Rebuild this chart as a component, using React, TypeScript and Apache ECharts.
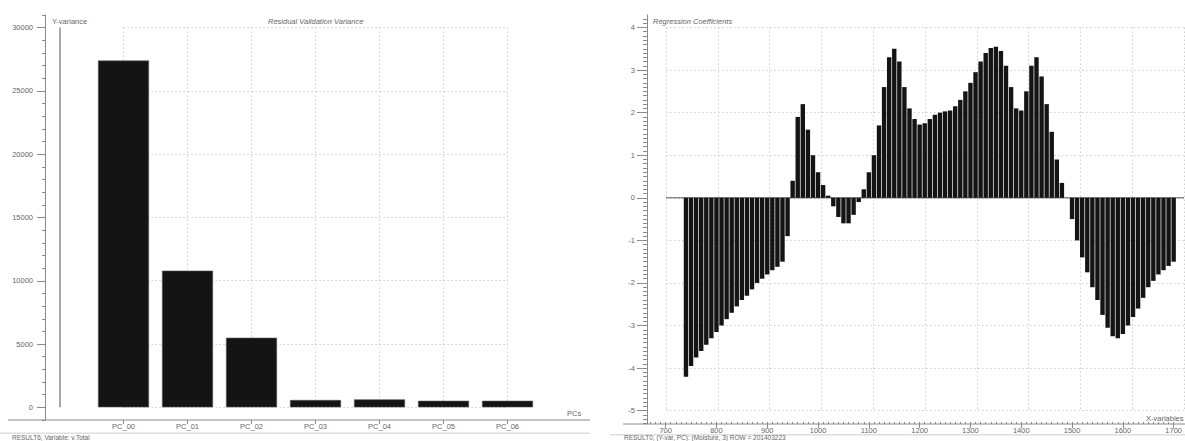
import React, { useEffect, useRef } from "react";
import * as echarts from "echarts";

const FONT = '"Liberation Sans", Arial, sans-serif';

// Residual validation variance per principal component
const pcLabels = ["PC_00", "PC_01", "PC_02", "PC_03", "PC_04", "PC_05", "PC_06"];
const pcIndex = [0, 1, 2, 3, 4, 5, 6];
const yVariance = [27400, 10800, 5500, 580, 630, 520, 520];

// Regression coefficients against wavelength (nm)
const wavelengths = [
  740, 750, 760, 770, 780, 790, 800, 810, 820, 830, 840, 850, 860, 870, 880, 890, 900, 910, 920, 930,
  940, 950, 960, 970, 980, 990, 1000, 1010, 1020, 1030, 1040, 1050, 1060, 1070, 1080, 1090, 1100, 1110,
  1120, 1130, 1140, 1150, 1160, 1170, 1180, 1190, 1200, 1210, 1220, 1230, 1240, 1250, 1260, 1270, 1280,
  1290, 1300, 1310, 1320, 1330, 1340, 1350, 1360, 1370, 1380, 1390, 1400, 1410, 1420, 1430, 1440, 1450,
  1460, 1470, 1480, 1490, 1500, 1510, 1520, 1530, 1540, 1550, 1560, 1570, 1580, 1590, 1600, 1610, 1620,
  1630, 1640, 1650, 1660, 1670, 1680, 1690, 1700,
];
const coefficients = [
  // 740 - 930
  -4.2, -3.95, -3.75, -3.6, -3.45, -3.3, -3.15, -3.0, -2.85, -2.7, -2.55, -2.4, -2.3, -2.15, -2.0, -1.9,
  -1.8, -1.7, -1.62, -1.5,
  // 940 - 1130
  -0.9, 0.4, 1.9, 2.2, 1.6, 1.0, 0.6, 0.3, 0.05, -0.2, -0.45, -0.6, -0.6, -0.4, -0.1, 0.2, 0.6, 1.0,
  1.7, 2.6,
  // 1140 - 1330
  3.3, 3.5, 3.2, 2.6, 2.1, 1.85, 1.72, 1.75, 1.85, 1.95, 2.0, 2.03, 2.05, 2.15, 2.3, 2.5, 2.7, 2.95,
  3.2, 3.4,
  // 1340 - 1530
  3.52, 3.55, 3.45, 3.1, 2.6, 2.1, 2.05, 2.5, 3.1, 3.3, 2.85, 2.2, 1.55, 0.9, 0.35, 0.0, -0.5, -1.0,
  -1.4, -1.75,
  // 1540 - 1700
  -2.1, -2.4, -2.75, -3.05, -3.25, -3.3, -3.2, -3.0, -2.8, -2.6, -2.35, -2.1, -1.95, -1.8, -1.7, -1.6,
  -1.5,
];

// Tick labels
const varianceTicks = [0, 5000, 10000, 15000, 20000, 25000, 30000];
const coefTicks = [-5, -4, -3, -2, -1, 0, 1, 2, 3, 4];
const wavelengthTicks = [700, 800, 900, 1000, 1100, 1200, 1300, 1400, 1500, 1600, 1700];

const AXIS = "#8a8a8a";
const LABEL = "#666";
const GRID = "#cfcfcf";

function minorSteps(from: number, to: number, step: number): number[] {
  const out: number[] = [];
  const n = Math.round((to - from) / step);
  for (let i = 0; i <= n; i++) out.push(+(from + i * step).toFixed(4));
  return out;
}

export default function App() {
  const ref = useRef<HTMLDivElement>(null);

  useEffect(() => {
    document.body.style.margin = "0";
    if (!ref.current) return;
    const chart = echarts.init(ref.current, undefined, { renderer: "svg" });

    const labelStyle = { fontSize: 7.5, color: LABEL, fontFamily: FONT };
    const dotted = { show: true, lineStyle: { color: GRID, type: [1.5, 2.5] as any, width: 1 } };
    const hidden = { show: false };
    const noLine = { show: false, onZero: false };
    const plain = (v: number) => String(v);

    const option: any = {
      animation: false,
      backgroundColor: "#fff",
      textStyle: { fontFamily: FONT },
      grid: [
        { left: 45, top: 15, width: 507, height: 405 },
        { left: 123.5, top: 27.6, width: 384, height: 379.7 },
        { left: 647, top: 15, width: 538, height: 409 },
        { left: 666, top: 27.5, width: 518, height: 383.2 },
      ],
      xAxis: [
        {
          gridIndex: 0, type: "value", min: -1.2266, max: 6.695, position: "bottom",
          axisLine: noLine,
          axisTick: { show: true, customValues: pcIndex, length: 4, lineStyle: { color: AXIS } },
          axisLabel: { ...labelStyle, customValues: pcIndex, margin: 2, formatter: (v: number) => pcLabels[Math.round(v)] ?? "" },
          splitLine: hidden,
        },
        {
          gridIndex: 1, type: "value", min: 0, max: 6, interval: 1,
          axisLine: noLine, axisTick: hidden, axisLabel: hidden, splitLine: dotted,
        },
        {
          gridIndex: 2, type: "value", min: 663.3, max: 1701.9, position: "bottom",
          axisLine: noLine,
          axisTick: { show: true, customValues: wavelengthTicks, length: 4, lineStyle: { color: AXIS } },
          axisLabel: { ...labelStyle, customValues: wavelengthTicks, margin: 2, formatter: plain },
          splitLine: hidden,
        },
        {
          gridIndex: 2, type: "value", min: 663.3, max: 1701.9, position: "bottom", offset: 0,
          axisLine: noLine,
          axisTick: { show: true, inside: true, customValues: minorSteps(670, 1700, 10), length: 2, lineStyle: { color: AXIS } },
          axisLabel: hidden, splitLine: hidden,
        },
        {
          gridIndex: 3, type: "value", min: 700, max: 1700, interval: 100,
          axisLine: noLine, axisTick: hidden, axisLabel: hidden, splitLine: dotted,
        },
      ],
      yAxis: [
        {
          gridIndex: 0, type: "value", min: -1000, max: 31000, position: "left",
          axisLine: { show: true, onZero: false, lineStyle: { color: AXIS } },
          axisTick: { show: true, customValues: varianceTicks, length: 8, lineStyle: { color: AXIS } },
          axisLabel: { ...labelStyle, customValues: varianceTicks, margin: 12, formatter: plain },
          splitLine: hidden,
        },
        {
          gridIndex: 0, type: "value", min: -1000, max: 31000, interval: 1000, position: "left", offset: 0,
          axisLine: noLine,
          axisTick: { show: true, length: 3, lineStyle: { color: AXIS } },
          axisLabel: hidden, splitLine: hidden,
        },
        {
          gridIndex: 1, type: "value", min: 0, max: 30000, interval: 5000,
          axisLine: noLine, axisTick: hidden, axisLabel: hidden, splitLine: dotted,
        },
        {
          gridIndex: 2, type: "value", min: -5.312, max: 4.293, position: "left",
          axisLine: { show: true, onZero: false, lineStyle: { color: AXIS } },
          axisTick: { show: true, customValues: coefTicks, length: 10, lineStyle: { color: AXIS } },
          axisLabel: { ...labelStyle, customValues: coefTicks, margin: 12, formatter: plain },
          splitLine: hidden,
        },
        {
          gridIndex: 2, type: "value", min: -5.312, max: 4.293, position: "left", offset: 0,
          axisLine: noLine,
          axisTick: { show: true, customValues: minorSteps(-5.3, 4.2, 0.1), length: 4, lineStyle: { color: AXIS } },
          axisLabel: hidden, splitLine: hidden,
        },
        {
          gridIndex: 3, type: "value", min: -5, max: 4, interval: 1,
          axisLine: noLine, axisTick: hidden, axisLabel: hidden, splitLine: dotted,
        },
      ],
      series: [
        {
          type: "bar", xAxisIndex: 0, yAxisIndex: 0, barWidth: 51, z: 3,
          itemStyle: { color: "#141414", borderColor: "#555", borderWidth: 0.6 },
          data: pcIndex.map((i) => [i, yVariance[i]]),
        },
        {
          type: "line", xAxisIndex: 4, yAxisIndex: 5, symbol: "none", z: 2,
          lineStyle: { color: "#555", width: 1 },
          data: [[700, 0], [1700, 0]],
        },
        {
          type: "bar", xAxisIndex: 2, yAxisIndex: 3, barWidth: 4.4, z: 3,
          itemStyle: { color: "#141414" },
          data: wavelengths.map((w, i) => [w, coefficients[i]]),
        },
      ],
      graphic: [
        // left panel: axis line along the bottom and the variance marker line
        { type: "line", z: 10, shape: { x1: 8, y1: 420, x2: 590, y2: 420 }, style: { stroke: AXIS, lineWidth: 1 } },
        { type: "line", z: 10, shape: { x1: 60, y1: 27.6, x2: 60, y2: 407.3 }, style: { stroke: "#8a8a8a", lineWidth: 1.5 } },
        { type: "rect", z: 0, shape: { x: 0, y: 432.5, width: 590, height: 1.5 }, style: { fill: "#dedede" } },
        { type: "text", z: 10, style: { x: 52, y: 21, text: "Y-variance", fontSize: 7.5, fill: LABEL, fontFamily: FONT, verticalAlign: "middle" } },
        { type: "text", z: 10, style: { x: 268, y: 21, text: "Residual Validation Variance", fontSize: 7.5, fontStyle: "italic", fill: LABEL, fontFamily: FONT, verticalAlign: "middle" } },
        { type: "text", z: 10, style: { x: 567, y: 413, text: "PCs", fontSize: 7.5, fill: LABEL, fontFamily: FONT, verticalAlign: "middle" } },
        { type: "text", z: 10, style: { x: 12, y: 437.8, text: "RESULT6, Variable: v.Total", fontSize: 6.5, fill: LABEL, fontFamily: FONT, verticalAlign: "middle" } },
        // right panel
        { type: "line", z: 10, shape: { x1: 623, y1: 424, x2: 1185, y2: 424 }, style: { stroke: AXIS, lineWidth: 1 } },
        { type: "rect", z: 0, shape: { x: 610, y: 434, width: 575, height: 1.5 }, style: { fill: "#dedede" } },
        { type: "text", z: 10, style: { x: 653, y: 21, text: "Regression Coefficients", fontSize: 7.5, fontStyle: "italic", fill: LABEL, fontFamily: FONT, verticalAlign: "middle" } },
        { type: "text", z: 10, style: { x: 1146, y: 418, text: "X-variables", fontSize: 7.5, fill: LABEL, fontFamily: FONT, verticalAlign: "middle" } },
        { type: "text", z: 10, style: { x: 624, y: 437.8, text: "RESULT0, (Y-var, PC): (Moisture, 3) ROW = 201403223", fontSize: 6.5, fill: LABEL, fontFamily: FONT, verticalAlign: "middle" } },
      ],
    };

    chart.setOption(option);
    return () => chart.dispose();
  }, []);

  return <div ref={ref} style={{ width: 1185, height: 441 }} />;
}
